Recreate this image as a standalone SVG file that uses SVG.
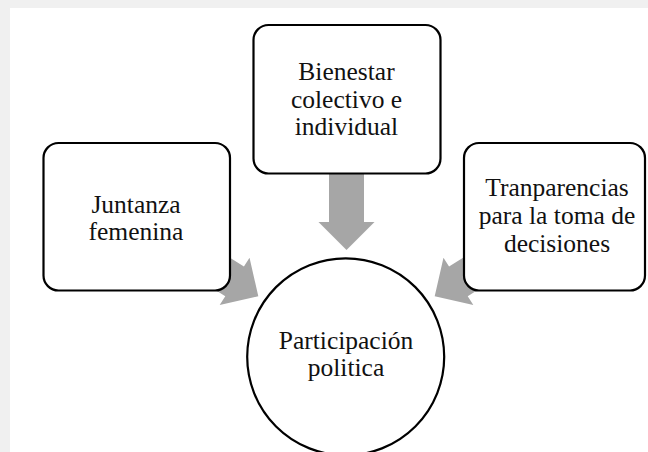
<svg xmlns="http://www.w3.org/2000/svg" width="648" height="452" viewBox="0 0 648 452">
  <style>
    .box { fill: #ffffff; stroke: #000000; stroke-width: 2.2; }
    .lbl { font-family: "Liberation Serif", "Times New Roman", serif; font-size: 25.5px; fill: #111111; text-anchor: middle; }
    .arrow { fill: #a6a6a6; stroke: none; }
  </style>
  <defs>
    <path id="arr" d="M -80 -17.5 L -28 -17.5 L -28 -28 L 0 0 L -28 28 L -28 17.5 L -80 17.5 Z"/>
  </defs>
  <rect x="0" y="0" width="648" height="452" fill="#f0f0f0"/>
  <rect x="10" y="8" width="638" height="444" fill="#ffffff"/>

  <g id="connectors">
    <use href="#arr" class="arrow" transform="translate(346.5,250) rotate(90)"/>
    <use href="#arr" class="arrow" transform="translate(258.3,296.3) rotate(32.2)"/>
    <use href="#arr" class="arrow" transform="translate(434.7,296.3) rotate(147.8)"/>
  </g>

  <g id="node-bienestar">
    <rect class="box" x="253.5" y="25" width="187" height="148.5" rx="15" ry="15"/>
    <text class="lbl" x="346.5" y="79.5">Bienestar</text>
    <text class="lbl" x="346.5" y="107.5">colectivo e</text>
    <text class="lbl" x="346.5" y="135">individual</text>
  </g>

  <g id="node-juntanza">
    <rect class="box" x="43.5" y="143" width="186.5" height="147.5" rx="15" ry="15"/>
    <text class="lbl" x="136" y="212.7">Juntanza</text>
    <text class="lbl" x="136" y="239.5">femenina</text>
  </g>

  <g id="node-transparencias">
    <rect class="box" x="464" y="143" width="181" height="147.5" rx="15" ry="15"/>
    <text class="lbl" x="557" y="196">Tranparencias</text>
    <text class="lbl" x="557" y="224">para la toma de</text>
    <text class="lbl" x="557" y="252">decisiones</text>
  </g>

  <g id="node-participacion">
    <circle class="box" cx="345.7" cy="356.8" r="98.5"/>
    <text class="lbl" x="346" y="349">Participación</text>
    <text class="lbl" x="346" y="376">politica</text>
  </g>
</svg>
